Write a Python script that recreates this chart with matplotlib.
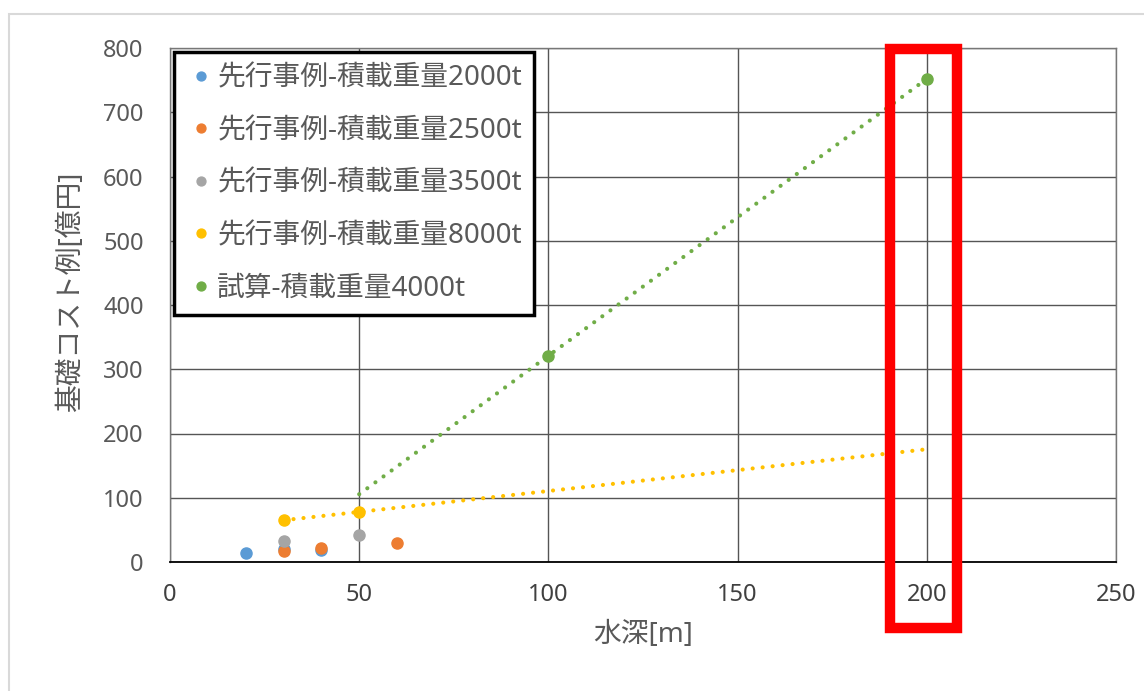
import numpy as np
import matplotlib
matplotlib.use('Agg')
import matplotlib.pyplot as plt
from matplotlib.patches import Rectangle

plt.rcParams['font.family'] = ['Noto Sans', 'Noto Sans CJK JP', 'DejaVu Sans']

# data (水深 [m], コスト [億円])
labels = ['先行事例-積載重量2000t', '先行事例-積載重量2500t', '先行事例-積載重量3500t',
          '先行事例-積載重量8000t', '試算-積載重量4000t']
colors = ['#5B9BD5', '#ED7D31', '#A5A5A5', '#FFC000', '#70AD47']
x2000 = [20, 30, 40]
y2000 = [14, 20, 18]
x2500 = [30, 40, 60]
y2500 = [17, 22, 30]
x3500 = [30, 50]
y3500 = [33, 42]
x8000 = [30, 50]
y8000 = [65, 78]
x4000 = [100, 200]
y4000 = [321, 752]

xs = [x2000, x2500, x3500, x8000, x4000]
ys = [y2000, y2500, y3500, y8000, y4000]

fig = plt.figure(figsize=(11.44, 6.91), dpi=100)
ax = fig.add_axes([170/1144, 1 - 562/691, (1116-170)/1144, (562-48)/691])

for x, y, c, lab in zip(xs, ys, colors, labels):
    ax.plot(x, y, 'o', color=c, markersize=8, label=lab, zorder=4, linestyle='none')

# linear trendlines
dots = (0, (0.01, 2.4))
p = np.polyfit(x8000, y8000, 1)
tx = np.array([30, 200])
ax.plot(tx, np.polyval(p, tx), color=colors[3], linestyle=dots,
        linewidth=3, dash_capstyle='round', zorder=3)
p = np.polyfit(x4000, y4000, 1)
tx = np.array([50, 200])
ax.plot(tx, np.polyval(p, tx), color=colors[4], linestyle=dots,
        linewidth=3, dash_capstyle='round', zorder=3)

ax.set_xlim(0, 250)
ax.set_ylim(0, 800)
ax.set_xticks(range(0, 251, 50))
ax.set_yticks(range(0, 801, 100))
ax.grid(True, color='#555555', linewidth=1.0)
ax.set_axisbelow(True)
for s in ['top', 'right', 'left']:
    ax.spines[s].set_color('#777777')
    ax.spines[s].set_linewidth(1.0)
ax.spines['bottom'].set_color('black')
ax.spines['bottom'].set_linewidth(1.3)
ax.tick_params(length=0)
ax.tick_params(axis='y', labelsize=17, labelcolor='#595959', pad=19)
ax.tick_params(axis='x', labelsize=17, labelcolor='#404040', pad=15)

ax.set_xlabel('水深[m]', fontsize=20, color='#595959')
ax.set_ylabel('基礎コスト例[億円]', fontsize=20, color='#595959')
ax.xaxis.set_label_coords(0.5, -0.115)
ax.yaxis.set_label_coords(-0.09, 0.525)

leg = ax.legend(loc='upper left', bbox_to_anchor=(0.0, 1.0), fontsize=20,
                markerscale=0.8, handletextpad=0.1, borderpad=0.45,
                labelspacing=0.88, fancybox=False, framealpha=1,
                borderaxespad=0.15, handlelength=1.0)
leg.get_frame().set_edgecolor('black')
leg.get_frame().set_linewidth(2.5)
for t in leg.get_texts():
    t.set_color('#595959')

# red highlight box (figure pixels)
fig.patches.append(Rectangle((890/1144, 1 - 628/691), 67/1144, 579/691,
                             transform=fig.transFigure, fill=False,
                             edgecolor='#FF0000', linewidth=7.5, zorder=10))
# chart area border
fig.patches.append(Rectangle((9/1144, -0.05), 1.1, 1 - 14/691 + 0.05,
                             transform=fig.transFigure, fill=False,
                             edgecolor='#D9D9D9', linewidth=1.5, zorder=0))

fig.savefig('out.png', dpi=100)
